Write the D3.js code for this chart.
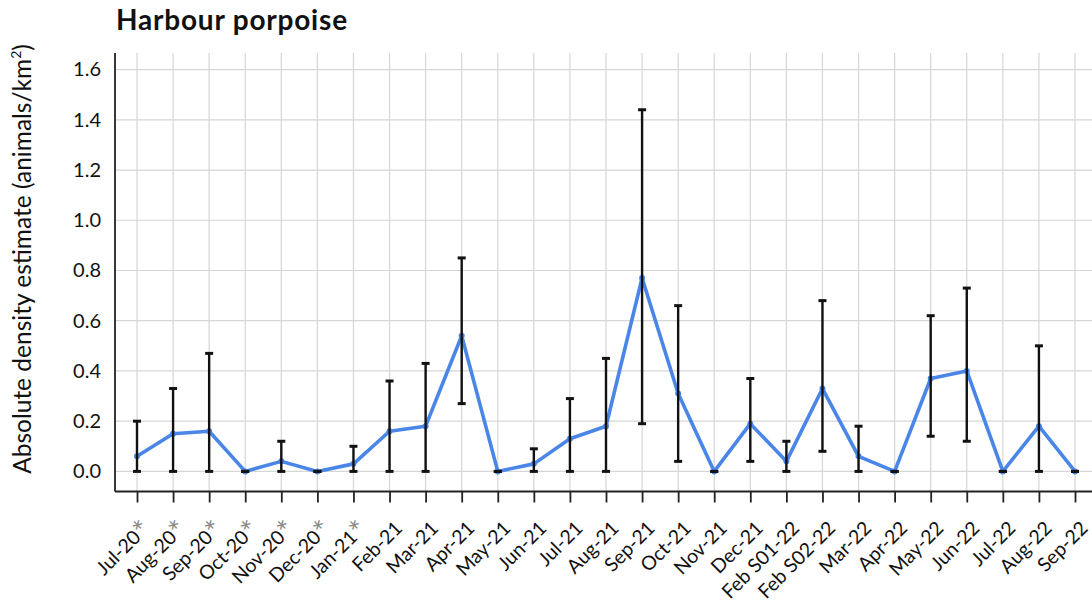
<!DOCTYPE html>
<html><head><meta charset="utf-8">
<script src="https://cdn.jsdelivr.net/npm/d3@7"></script>
<style>
body{margin:0;background:#fff;}
text{font-family:Lato,"Open Sans",sans-serif;}
</style></head>
<body><svg id="c" width="1092" height="609"></svg>
<script>
const categories=["Jul-20","Aug-20","Sep-20","Oct-20","Nov-20","Dec-20","Jan-21","Feb-21","Mar-21","Apr-21","May-21","Jun-21","Jul-21","Aug-21","Sep-21","Oct-21","Nov-21","Dec-21","Feb S01-22","Feb S02-22","Mar-22","Apr-22","May-22","Jun-22","Jul-22","Aug-22","Sep-22"];
const starred=["Jul-20","Aug-20","Sep-20","Oct-20","Nov-20","Dec-20","Jan-21"];
const estimate=[0.06,0.15,0.16,0,0.04,0,0.03,0.16,0.18,0.54,0,0.03,0.13,0.18,0.77,0.31,0,0.19,0.04,0.33,0.06,0,0.37,0.40,0,0.18,0];
const lower=[0,0,0,0,0,0,0,0,0,0.27,0,0,0,0,0.19,0.04,0,0.04,0,0.08,0,0,0.14,0.12,0,0,0];
const upper=[0.20,0.33,0.47,0,0.12,0,0.10,0.36,0.43,0.85,0,0.09,0.29,0.45,1.44,0.66,0,0.37,0.12,0.68,0.18,0,0.62,0.73,0,0.50,0];
const yTicks=[0,0.2,0.4,0.6,0.8,1.0,1.2,1.4,1.6];

const svg=d3.select("#c");
const x=d3.scalePoint().domain(categories).range([137,1075]);
const y=d3.scaleLinear().domain([-0.08,1.666]).range([491.5,53]);
const xL=115,xR=1092,yB=491.5,yT=53;

// grid
svg.append("g").selectAll("line").data(yTicks).join("line")
 .attr("x1",xL).attr("x2",xR).attr("y1",d=>y(d)).attr("y2",d=>y(d))
 .attr("stroke","#d6d6d6").attr("stroke-width",1.2);
svg.append("g").selectAll("line").data(categories).join("line")
 .attr("x1",d=>x(d)).attr("x2",d=>x(d)).attr("y1",yT).attr("y2",yB)
 .attr("stroke","#d6d6d6").attr("stroke-width",1.2);

// axes
const ya=d3.axisLeft(y).tickValues(yTicks).tickSize(0).tickPadding(14).tickFormat(d3.format(".1f"));
const gy=svg.append("g").attr("transform",`translate(${xL},0)`).call(ya);
gy.select(".domain").remove();
gy.selectAll("text").attr("font-size",20).attr("fill","#111").attr("font-family","Lato");
svg.append("line").attr("x1",xL).attr("x2",xL).attr("y1",yT).attr("y2",yB).attr("stroke","#222").attr("stroke-width",1.8);

const xa=d3.axisBottom(x).tickSize(11).tickFormat("");
const gx=svg.append("g").attr("transform",`translate(0,${yB})`).call(xa);
gx.select(".domain").remove();
gx.selectAll(".tick line").attr("stroke","#222").attr("stroke-width",1.8);
svg.append("line").attr("x1",xL).attr("x2",xR).attr("y1",yB).attr("y2",yB).attr("stroke","#222").attr("stroke-width",1.8);

// x labels
const lab=svg.append("g").selectAll("text").data(categories).join("text")
 .attr("transform",d=>`translate(${x(d)+14},${yB+38}) rotate(-45)`)
 .attr("text-anchor","end").attr("font-size",19.5).attr("fill","#111");
lab.append("tspan").text(d=>d);
lab.filter(d=>starred.includes(d)).append("tspan").text("*").attr("fill","#888").attr("font-size",30).attr("dy",5);

// line
const pts=categories.map((c,i)=>({c,v:estimate[i],lo:lower[i],hi:upper[i]}));
svg.append("path").datum(pts)
 .attr("d",d3.line().x(d=>x(d.c)).y(d=>y(d.v)))
 .attr("fill","none").attr("stroke","#4a86e8").attr("stroke-width",3.6).attr("stroke-linejoin","round");
svg.append("g").selectAll("circle").data(pts).join("circle")
 .attr("cx",d=>x(d.c)).attr("cy",d=>y(d.v)).attr("r",3).attr("fill","#4a86e8");

// error bars
const eb=svg.append("g").attr("stroke","#111").attr("stroke-width",2.4);
eb.selectAll(".v").data(pts).join("line")
 .attr("x1",d=>x(d.c)).attr("x2",d=>x(d.c)).attr("y1",d=>y(d.lo)).attr("y2",d=>y(d.hi));
eb.selectAll(".t").data(pts).join("line")
 .attr("x1",d=>x(d.c)-4).attr("x2",d=>x(d.c)+4).attr("y1",d=>y(d.hi)).attr("y2",d=>y(d.hi)).attr("stroke-width",3);
eb.selectAll(".b").data(pts).join("line")
 .attr("x1",d=>x(d.c)-4).attr("x2",d=>x(d.c)+4).attr("y1",d=>y(d.lo)).attr("y2",d=>y(d.lo)).attr("stroke-width",3);

// titles
svg.append("text").attr("x",116).attr("y",30).attr("font-size",28).attr("font-weight","bold").attr("letter-spacing",0.8).attr("fill","#111").text("Harbour porpoise");
const yt=svg.append("text").attr("transform","translate(31,259) rotate(-90)").attr("text-anchor","middle")
 .attr("font-size",24.5).attr("fill","#111");
yt.append("tspan").text("Absolute density estimate (animals/km");
yt.append("tspan").text("2").attr("font-size",14).attr("dy",-10);
yt.append("tspan").text(")").attr("dy",10);
</script></body></html>
